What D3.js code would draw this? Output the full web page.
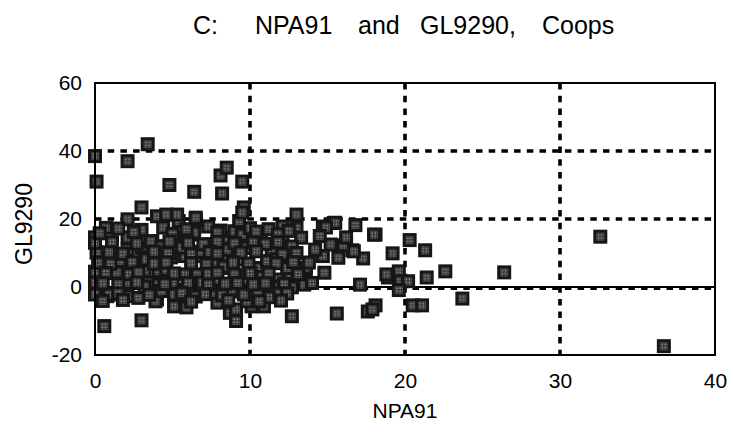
<!DOCTYPE html>
<html><head><meta charset="utf-8">
<script src="https://cdn.jsdelivr.net/npm/d3@7"></script>
<style>
html,body{margin:0;padding:0;background:#fff;}
svg{display:block;font-family:"Liberation Sans",Arial,Helvetica,sans-serif;}
</style></head>
<body>
<svg id="c" width="733" height="432"></svg>
<script>
const titleWords = ["C:", "NPA91", "and", "GL9290,", "Coops"];
const xLabel = "NPA91";
const yLabel = "GL9290";
const xTicks = [0, 10, 20, 30, 40];
const yTicks = [-20, 0, 20, 40, 60];
const xGrid = [10, 20, 30];
const yGrid = [20, 40];

// NPA91 (x) and GL9290 (y) values
const npa91 = [
 0.0,0.1,2.1,3.4,4.8,6.4,8.2,8.1,8.5,9.5,3.0,9.6,
 20.3,21.3,19.2,19.6,18.9,19.7,20.2,19.6,21.4,22.6,26.4,23.7,20.5,21.1,18.1,18.1,17.6,15.6,32.6,36.7,17.1,16.8,14.7,15.4,17.3,16.6,
 0.6,3.0,8.7,9.1,12.7,5.8,7.9,10.1,10.9,5.1,5.9,9.1,9.8,4.0,3.9,
 4.0,2.1,0.7,0.0,2.1,3.0,3.7,0.1,0.4,1.6,1.4,3.2,3.2,4.1,4.0,0.0,0.0,0.8,2.1,2.8,3.4,0.0,
 4.6,5.4,6.5,5.1,6.3,7.4,8.4,9.0,4.1,5.8,6.8,8.3,4.6,5.8,6.6,8.4,7.7,5.0,4.3,5.1,6.5,7.7,9.0,6.9,
 9.3,13.0,9.5,10.6,12.1,13.0,13.3,9.8,11.7,12.4,9.1,10.5,9.4,11.8,12.6,13.6,13.5,10.6,9.6,10.5,11.4,11.1,
 15.5,18.0,15.2,16.7,14.7,15.7,14.8,14.0,17.9,18.8,13.6,
 5.3,6.5,9.5,0.0,3.6,6.4,9.5,10.7,2.1,4.3,5.6,6.8,8.5,9.8,11.4,12.7,3.3,4.9,8.3,9.3,11.7,12.4,0.0,0.9,2.1,3.2,5.8,6.5,7.8,8.8,9.6,10.8,11.9,12.7,11.3,12.1,14.9,
 1.5,3.0,4.4,5.9,7.3,8.1,10.0,11.2,12.5,
 0.3,2.5,5.0,7.9,10.4,11.8,
 1.1,2.7,4.8,6.0,7.0,7.9,9.0,10.2,11.0,11.8,
 0.9,1.8,3.8,4.7,6.2,7.4,7.9,9.4,10.4,12.1,13.0,
 0.2,1.0,2.4,3.8,4.6,6.2,7.2,8.9,9.9,11.7,12.8,
 0.7,2.2,2.8,5.1,7.3,7.9,9.0,10.0,11.2,13.1,
 0.5,1.5,2.7,4.5,6.0,7.3,8.4,9.2,10.2,11.0,12.2,
 1.5,3.5,5.6,7.1,8.2,11.9,12.4,
 0.5,1.8,6.2,8.6,10.6,12.0,
 14.2,16.0,13.8,14.5,16.2
];
const gl9290 = [
 38.5,31.0,37.0,42.0,30.0,28.0,27.5,32.8,35.1,31.0,23.4,23.4,
 13.8,10.8,9.9,4.6,2.8,1.7,1.7,-0.9,2.8,4.6,4.3,-3.4,-5.4,-5.4,15.4,-5.4,-7.2,-7.8,14.8,-17.4,0.7,18.2,17.8,18.8,8.4,10.8,
 -11.5,-9.8,-7.6,-10.0,-8.6,-5.6,-4.6,-5.7,-5.7,-5.7,-6.0,-6.6,-4.2,-3.7,-4.2,
 20.8,19.9,17.4,14.6,14.6,11.5,13.5,10.1,7.2,7.6,4.3,8.7,4.7,4.7,0.7,0.7,-2.2,-2.7,-2.7,-3.2,1.3,4.5,
 21.3,19.4,19.9,14.5,15.4,12.5,14.5,16.4,12.0,9.1,9.1,9.1,5.1,3.7,3.7,5.6,6.6,1.2,-1.2,-2.2,-2.2,-1.7,-1.2,1.3,
 19.4,21.3,14.9,14.5,14.0,17.4,14.5,11.5,9.6,9.1,9.1,5.6,3.2,2.2,2.7,5.1,0.7,0.7,-2.2,-2.2,-0.7,7.6,
 18.9,15.4,12.5,10.5,9.1,8.6,4.2,1.2,-6.6,3.7,5.7,
 21.3,20.4,21.9,13.0,13.4,16.0,15.4,14.0,11.0,11.9,11.6,10.4,11.0,11.6,11.0,11.9,8.1,8.7,6.0,8.1,8.1,5.6,1.3,-2.2,1.3,0.1,-0.7,-2.8,2.2,-1.3,2.2,3.0,0.1,-0.1,-3.0,17.8,17.5,
 17.2,16.8,17.5,17.0,17.8,16.6,17.3,17.0,16.5,
 15.8,16.2,15.6,16.0,16.3,15.5,
 13.2,12.8,13.4,13.0,12.6,13.3,12.9,13.1,12.7,13.2,
 10.2,9.8,10.4,10.0,9.7,10.3,9.9,10.1,10.5,9.6,10.0,
 7.1,6.8,7.3,6.9,7.2,7.0,6.7,7.2,6.9,7.0,7.3,
 4.1,3.8,4.3,4.0,3.9,4.2,3.7,4.1,4.0,3.8,
 1.1,0.8,1.3,0.9,1.2,0.7,1.0,1.2,0.8,1.1,0.9,
 -1.9,-2.3,-1.8,-2.1,-2.4,-2.0,-1.9,
 -4.1,-3.8,-4.3,-3.9,-4.2,-4.0,
 11.0,12.3,7.2,15.0,14.6
];

const svg = d3.select("#c");
const L = 95, R = 715, T = 83, B = 355;
const x = d3.scaleLinear().domain([0, 40]).range([L, R]);
const y = d3.scaleLinear().domain([-20, 60]).range([B, T]);
const FONT = "'Liberation Sans',Arial,Helvetica,sans-serif";

// pattern for speckled marker centre
const defs = svg.append("defs");
const pat = defs.append("pattern").attr("id","spk").attr("width",3).attr("height",3)
  .attr("patternUnits","userSpaceOnUse");
pat.append("rect").attr("width",3).attr("height",3).attr("fill","#3a3a3a");
pat.append("rect").attr("x",0.6).attr("y",0.6).attr("width",1.3).attr("height",1.3).attr("fill","#a8a8a8");

// grid
const g = svg.append("g");
g.selectAll("line.vg").data(xGrid).join("line")
  .attr("x1", d=>x(d)).attr("x2", d=>x(d)).attr("y1", T).attr("y2", B)
  .attr("stroke","#000").attr("stroke-width",3.6).attr("stroke-dasharray","6.5,6.2");
g.selectAll("line.hg").data(yGrid).join("line")
  .attr("y1", d=>y(d)).attr("y2", d=>y(d)).attr("x1", L).attr("x2", R)
  .attr("stroke","#000").attr("stroke-width",3.6).attr("stroke-dasharray","6.5,6.2");
// zero line: solid with dashes
g.append("line").attr("x1",L).attr("x2",R).attr("y1",y(0)).attr("y2",y(0))
  .attr("stroke","#000").attr("stroke-width",1.8);
g.append("line").attr("x1",L).attr("x2",R).attr("y1",y(0)+1.6).attr("y2",y(0)+1.6)
  .attr("stroke","#000").attr("stroke-width",2.6).attr("stroke-dasharray","6.5,6.2");

// markers
const pts = npa91.map((v,i)=>({x:v, y:gl9290[i]}));
const mk = svg.append("g").selectAll("g").data(pts).join("g")
  .attr("transform", d=>`translate(${x(d.x)},${y(d.y)})`);
mk.append("rect").attr("x",-7).attr("y",-7).attr("width",14).attr("height",14)
  .attr("fill","#161616");
mk.append("rect").attr("x",-4).attr("y",-4).attr("width",8).attr("height",8)
  .attr("fill","url(#spk)");

// frame
svg.append("rect").attr("x",L).attr("y",T).attr("width",R-L).attr("height",B-T)
  .attr("fill","none").attr("stroke","#000").attr("stroke-width",2);

// axes labels
const yAx = svg.append("g").attr("transform",`translate(${L-13},0)`)
  .call(d3.axisLeft(y).tickValues(yTicks).tickSize(0).tickPadding(0).tickFormat(d=>String(d)));
yAx.select(".domain").remove();
yAx.selectAll("text").attr("font-size",21).attr("fill","#000").attr("font-family",FONT);

const xAx = svg.append("g").attr("transform",`translate(0,${B+18})`)
  .call(d3.axisBottom(x).tickValues(xTicks).tickSize(0).tickPadding(0).tickFormat(d=>String(d)));
xAx.select(".domain").remove();
xAx.selectAll("text").attr("font-size",21).attr("fill","#000").attr("font-family",FONT);

svg.append("text").attr("x",405).attr("y",418).attr("text-anchor","middle")
  .attr("font-size",21).attr("font-family",FONT).text(xLabel);
svg.append("text").attr("transform","translate(32,224) rotate(-90)").attr("text-anchor","middle")
  .attr("font-size",23).attr("font-family",FONT).text(yLabel);

// title words at their positions
const titleX = d3.scaleOrdinal().domain(titleWords).range([193, 255, 358, 420, 542]);
svg.append("g").selectAll("text").data(titleWords).join("text")
  .attr("x", d=>titleX(d)).attr("y", 34).attr("font-size",25).attr("font-family",FONT)
  .text(d=>d);
</script>
</body></html>
